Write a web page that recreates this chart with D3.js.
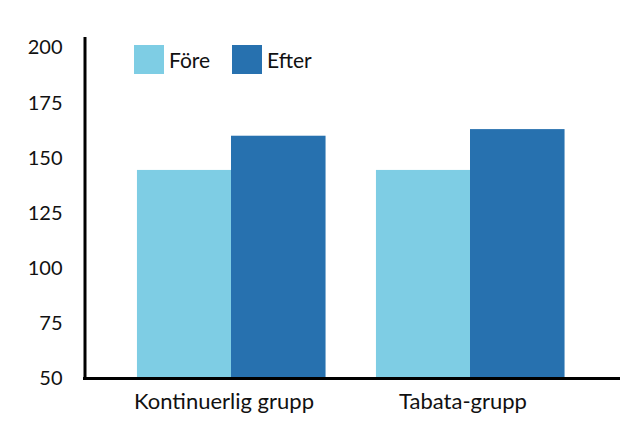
<!DOCTYPE html>
<html><head><meta charset="utf-8">
<script src="https://cdn.jsdelivr.net/npm/d3@7"></script>
<style>body{margin:0;background:#fff}svg{display:block}</style>
</head><body>
<script>
const categories = ["Kontinuerlig grupp", "Tabata-grupp"];
const seriesNames = ["Före", "Efter"];
const fore = [144.5, 144.5];
const efter = [160, 163];
const yTicks = [50, 75, 100, 125, 150, 175, 200];
const colors = ["#7ecde4", "#2771af"];

const W = 632, H = 426;
const svg = d3.select("body").append("svg").attr("width", W).attr("height", H);
const font = "Lato, 'Open Sans', sans-serif";

const y = d3.scaleLinear().domain([50, 205]).range([378.5, 36.4]);
const x0 = d3.scaleBand().domain(categories).range([111.5, 589.5]).paddingInner(0.213).paddingOuter(0.1065);
const x1 = d3.scaleBand().domain(seriesNames).range([0, x0.bandwidth()]);

const data = categories.map((c, i) => ({cat: c, vals: [fore[i], efter[i]]}));

const g = svg.append("g");
g.selectAll("g.grp").data(data).join("g").attr("class", "grp")
  .attr("transform", d => `translate(${x0(d.cat)},0)`)
  .selectAll("rect").data(d => d.vals.map((v, j) => ({s: seriesNames[j], v, j})))
  .join("rect")
  .attr("x", d => x1(d.s)).attr("width", x1.bandwidth() + 0.5)
  .attr("y", d => y(d.v)).attr("height", d => y(50) - y(d.v))
  .attr("fill", d => colors[d.j]);

// y axis
const ya = svg.append("g").attr("transform", "translate(84.5,0)")
  .call(d3.axisLeft(y).tickValues(yTicks).tickSize(0).tickPadding(22).tickSizeOuter(0));
ya.select(".domain").attr("stroke", "#000").attr("stroke-width", 3);
ya.selectAll("text").attr("font-family", font).attr("font-size", 20).attr("fill", "#111");

// x axis
svg.append("line").attr("x1", 83).attr("x2", 620).attr("y1", y(50)).attr("y2", y(50))
  .attr("stroke", "#000").attr("stroke-width", 3);
svg.selectAll("text.cat").data(categories).join("text").attr("class", "cat")
  .attr("x", d => x0(d) + x0.bandwidth() / 2 - 7).attr("y", 409)
  .attr("text-anchor", "middle").attr("font-family", font).attr("font-size", 22).attr("fill", "#111")
  .text(d => d);

// legend
const legX = [134, 232];
const lg = svg.selectAll("g.leg").data(seriesNames).join("g").attr("class", "leg")
  .attr("transform", (d, i) => `translate(${legX[i]},45)`);
lg.append("rect").attr("width", 30).attr("height", 29).attr("fill", (d, i) => colors[i]);
lg.append("text").attr("x", 35).attr("y", 23).attr("font-family", font).attr("font-size", 21)
  .attr("fill", "#111").text(d => d);
</script>
</body></html>
